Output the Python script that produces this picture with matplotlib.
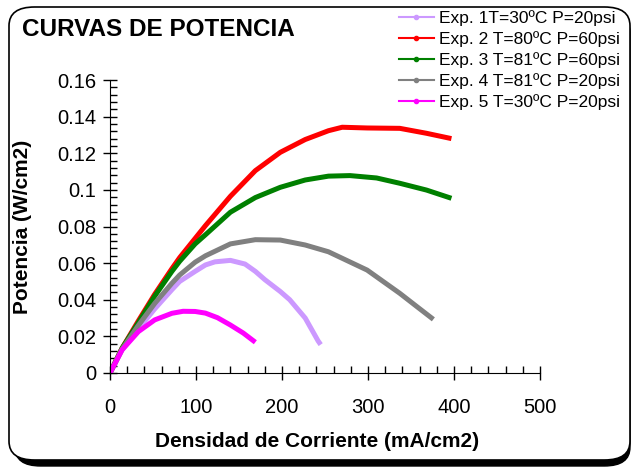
import numpy as np
import matplotlib.pyplot as plt
from matplotlib.patches import FancyBboxPatch
from matplotlib.lines import Line2D
from matplotlib.ticker import MultipleLocator

plt.rcParams['font.family'] = ['Liberation Sans', 'DejaVu Sans']

# Exp. 1 T=30ºC P=20psi
x1 = [0, 14, 33, 52, 72, 81, 99, 111, 122, 140, 157, 169, 180, 198, 209, 227, 242, 245]
y1 = [0, 0.0125, 0.024, 0.035, 0.0455, 0.050, 0.0555, 0.059, 0.0607, 0.0615, 0.0595,
      0.0555, 0.051, 0.0445, 0.040, 0.030, 0.0175, 0.0155]
# Exp. 2 T=80ºC P=60psi
x2 = [0, 14, 33, 52, 72, 81, 99, 111, 140, 169, 198, 227, 254, 270, 299, 337, 368, 397]
y2 = [0, 0.0135, 0.0285, 0.043, 0.057, 0.063, 0.0735, 0.0805, 0.0965, 0.1105, 0.1205,
      0.1275, 0.1323, 0.1342, 0.1338, 0.1336, 0.1309, 0.128]
# Exp. 3 T=81ºC P=60psi
x3 = [0, 14, 33, 52, 72, 81, 99, 111, 140, 169, 198, 227, 254, 279, 310, 337, 368, 397]
y3 = [0, 0.0135, 0.0275, 0.042, 0.0555, 0.061, 0.0705, 0.0755, 0.0878, 0.0958, 0.1014,
      0.1054, 0.1075, 0.1078, 0.1065, 0.1036, 0.0999, 0.0954]
# Exp. 4 T=81ºC P=20psi
x4 = [0, 14, 33, 52, 72, 81, 99, 111, 140, 169, 198, 227, 254, 299, 337, 357, 376]
y4 = [0, 0.013, 0.026, 0.038, 0.049, 0.0535, 0.0605, 0.064, 0.0705, 0.0728, 0.0726,
      0.0699, 0.0662, 0.0562, 0.0435, 0.0362, 0.0293]
# Exp. 5 T=30ºC P=20psi
x5 = [0, 14, 33, 52, 72, 85, 99, 111, 125, 140, 155, 169]
y5 = [0, 0.0126, 0.0226, 0.029, 0.0326, 0.0337, 0.0336, 0.0327, 0.0302, 0.0262, 0.0218, 0.0168]

etiquetas = ['Exp. 1T=30ºC P=20psi', 'Exp. 2 T=80ºC P=60psi', 'Exp. 3 T=81ºC P=60psi',
             'Exp. 4 T=81ºC P=20psi', 'Exp. 5 T=30ºC P=20psi']
colores = ['#CC99FF', '#FF0000', '#008000', '#808080', '#FF00FF']
series = [(x1, y1), (x2, y2), (x3, y3), (x4, y4), (x5, y5)]

fig = plt.figure(figsize=(6.4, 4.68), dpi=100)

# marco redondeado con sombra
sombra = FancyBboxPatch((15 / 640, 1 - 466 / 468), 615 / 640, 453 / 468,
                        boxstyle="round,pad=0,rounding_size=0.04",
                        transform=fig.transFigure, facecolor='black',
                        edgecolor='black', lw=1, zorder=0)
marco = FancyBboxPatch((9 / 640, 1 - 460 / 468), 621 / 640, 453 / 468,
                       boxstyle="round,pad=0,rounding_size=0.04",
                       transform=fig.transFigure, facecolor='white',
                       edgecolor='black', lw=1.2, zorder=1)
fig.patches.extend([sombra, marco])

ax = fig.add_axes([110 / 640, 1 - 373 / 468, 430 / 640, 293 / 468])
ax.set_zorder(3)
ax.patch.set_alpha(0)

for (xs, ys), c in zip(series, colores):
    ax.plot(xs, ys, color=c, lw=3.6, solid_capstyle='butt', solid_joinstyle='round')

ax.set_xlim(0, 500)
ax.set_ylim(0, 0.16)
ax.xaxis.set_major_locator(MultipleLocator(100))
ax.xaxis.set_minor_locator(MultipleLocator(20))
ax.yaxis.set_minor_locator(MultipleLocator(0.004))
ax.set_yticks([0, 0.02, 0.04, 0.06, 0.08, 0.1, 0.12, 0.14, 0.16],
              ['0', '0.02', '0.04', '0.06', '0.08', '0.1', '0.12', '0.14', '0.16'])
ax.tick_params(which='major', direction='inout', length=10, width=1, labelsize=14.5)
ax.tick_params(which='minor', direction='in', length=5, width=1)
ax.tick_params(axis='x', which='major', pad=13)
ax.tick_params(axis='y', which='major', pad=5)
for s in ['top', 'right']:
    ax.spines[s].set_visible(False)

ax.set_xlabel('Densidad de Corriente (mA/cm2)', fontsize=15, fontweight='bold')
ax.xaxis.set_label_coords((317 - 110) / 430, -(432 - 373) / 293)
ax.set_ylabel('Potencia (W/cm2)', fontsize=15, fontweight='bold')
ax.yaxis.set_label_coords(-(110 - 32) / 430, 0.5)

fig.text(22 / 640, 1 - 29 / 468, 'CURVAS DE POTENCIA', fontsize=17.5,
         fontweight='bold', va='center', ha='left', zorder=3)

handles = [Line2D([], [], color=c, lw=1.5, marker='o', ms=3) for c in colores]
leg = fig.legend(handles, etiquetas, loc='upper left', bbox_to_anchor=(399 / 640, 1 - 10 / 468),
                 frameon=False, fontsize=12.5, handlelength=2.0, handletextpad=0.3,
                 labelspacing=0.3, borderpad=0, borderaxespad=0, markerscale=1)
leg.set_zorder(3)

fig.savefig('out.png', dpi=100)
